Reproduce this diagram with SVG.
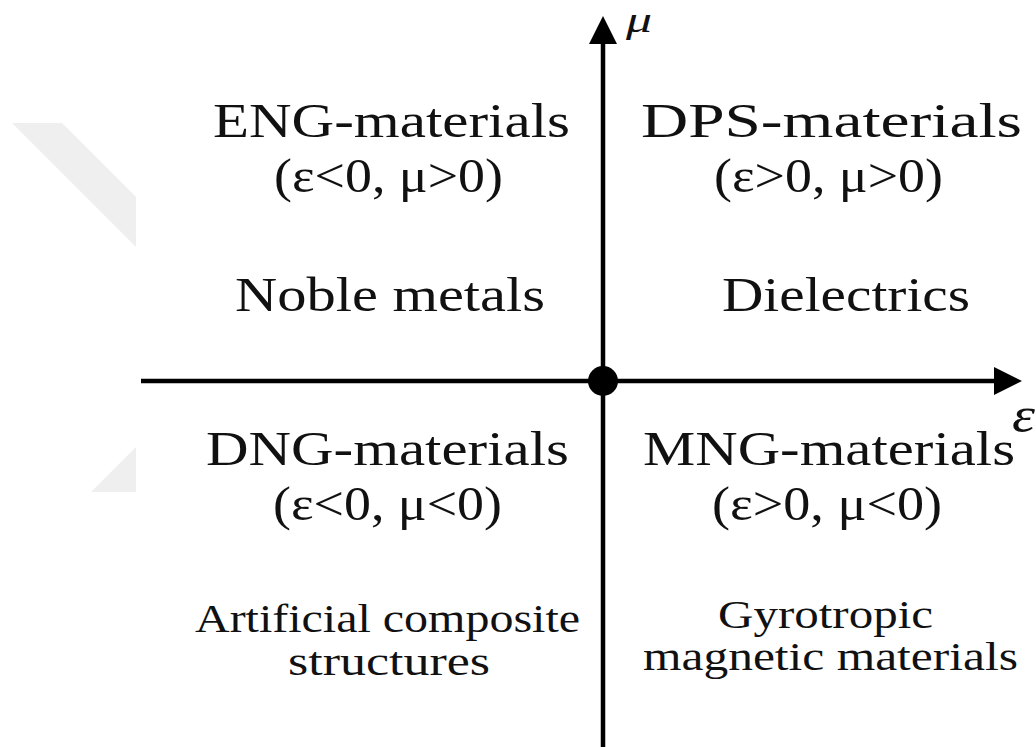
<svg xmlns="http://www.w3.org/2000/svg" width="1036" height="747" viewBox="0 0 1036 747">
  <style>
    .lbl { font-family: "Liberation Serif", "Times New Roman", serif; fill: #111; }
    .head { font-size: 48px; }
    .sub { font-size: 40px; }
    .axis-name { font-family: "Liberation Serif", "Times New Roman", serif; font-style: italic; fill: #111; }
    .axis { stroke: #000; stroke-width: 4.5; fill: none; }
    .wm { fill: #efefef; }
  </style>
  <defs>
    <marker id="arrowhead" viewBox="0 0 28 28" markerWidth="28" markerHeight="28" refX="1" refY="14" orient="auto" markerUnits="userSpaceOnUse">
      <path d="M0,0 L28,14 L0,28 Z" fill="#000"/>
    </marker>
  </defs>

  <rect width="1036" height="747" fill="#fff"/>

  <!-- faint chevron in the left margin -->
  <g id="backdrop">
    <polygon class="wm" points="12,123 62,123 136,197 136,247"/>
    <polygon class="wm" points="136,447 136,492 91,492"/>
  </g>

  <!-- axes -->
  <g id="connectors">
    <line class="axis" x1="141" y1="381" x2="995" y2="381" marker-end="url(#arrowhead)"/>
    <line class="axis" x1="603" y1="747" x2="603" y2="43" marker-end="url(#arrowhead)"/>
    <circle cx="603" cy="381" r="15" fill="#000"/>
  </g>

  <g id="axis-labels">
    <text class="axis-name" x="626" y="32" font-size="36" textLength="26" lengthAdjust="spacingAndGlyphs">μ</text>
    <text class="axis-name" x="1012" y="432" font-size="50" textLength="23" lengthAdjust="spacingAndGlyphs">ε</text>
  </g>

  <g id="q-eng">
    <text class="lbl head" x="213" y="137" textLength="357" lengthAdjust="spacingAndGlyphs">ENG-materials</text>
    <text class="lbl head" x="274" y="192" textLength="229" lengthAdjust="spacingAndGlyphs">(ε&lt;0, μ&gt;0)</text>
    <text class="lbl head" x="235" y="311" textLength="310" lengthAdjust="spacingAndGlyphs">Noble metals</text>
  </g>

  <g id="q-dps">
    <text class="lbl head" x="641" y="137" textLength="381" lengthAdjust="spacingAndGlyphs">DPS-materials</text>
    <text class="lbl head" x="714" y="192" textLength="229" lengthAdjust="spacingAndGlyphs">(ε&gt;0, μ&gt;0)</text>
    <text class="lbl head" x="722" y="311" textLength="248" lengthAdjust="spacingAndGlyphs">Dielectrics</text>
  </g>

  <g id="q-dng">
    <text class="lbl head" x="206" y="465" textLength="363" lengthAdjust="spacingAndGlyphs">DNG-materials</text>
    <text class="lbl head" x="273" y="520" textLength="229" lengthAdjust="spacingAndGlyphs">(ε&lt;0, μ&lt;0)</text>
    <text class="lbl sub" x="195" y="632" textLength="385" lengthAdjust="spacingAndGlyphs">Artificial composite</text>
    <text class="lbl sub" x="288" y="675" textLength="202" lengthAdjust="spacingAndGlyphs">structures</text>
  </g>

  <g id="q-mng">
    <text class="lbl head" x="643" y="465" textLength="372" lengthAdjust="spacingAndGlyphs">MNG-materials</text>
    <text class="lbl head" x="712" y="520" textLength="230" lengthAdjust="spacingAndGlyphs">(ε&gt;0, μ&lt;0)</text>
    <text class="lbl sub" x="718" y="628" textLength="215" lengthAdjust="spacingAndGlyphs">Gyrotropic</text>
    <text class="lbl sub" x="643" y="670" textLength="375" lengthAdjust="spacingAndGlyphs">magnetic materials</text>
  </g>
</svg>
